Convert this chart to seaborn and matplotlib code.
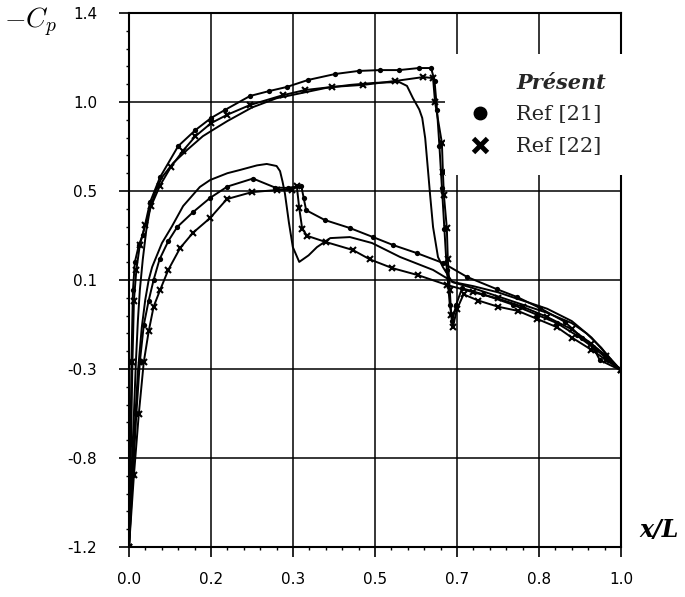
import numpy as np
import pandas as pd
import matplotlib
matplotlib.use('Agg')
import matplotlib.pyplot as plt
import seaborn as sns
from matplotlib.lines import Line2D
from matplotlib.ticker import FormatStrFormatter, AutoMinorLocator


# Donnees (-Cp le long de x/L)
##############################################

# Present - extrados
x_pres_ext = [0.0, 0.005, 0.01, 0.014, 0.018, 0.022, 0.028, 0.035, 0.043, 0.055,
              0.067, 0.09, 0.118, 0.15, 0.17, 0.2, 0.25, 0.3, 0.33, 0.4,
              0.45, 0.5, 0.549, 0.565, 0.577, 0.59, 0.596, 0.602, 0.608, 0.612,
              0.618, 0.628, 0.638, 0.657, 0.7, 0.75, 0.8, 0.85, 0.9, 0.93,
              0.96, 0.98, 1.0]
cp_pres_ext = [-1.2, -0.85, -0.55, -0.3, -0.1, 0.05, 0.2, 0.34, 0.45, 0.54,
               0.6, 0.67, 0.733, 0.8, 0.83, 0.874, 0.94, 0.985, 1.0, 1.035,
               1.05, 1.06, 1.064, 1.045, 0.986, 0.93, 0.889, 0.791, 0.626, 0.514,
               0.358, 0.212, 0.163, 0.09, 0.06, 0.02, -0.02, -0.06, -0.11, -0.16,
               -0.23, -0.29, -0.34]

# Present - intrados
x_pres_int = [0.0, 0.006, 0.012, 0.018, 0.026, 0.033, 0.04, 0.047, 0.067, 0.087,
              0.11, 0.144, 0.165, 0.2, 0.226, 0.26, 0.28, 0.3, 0.307, 0.312,
              0.317, 0.325, 0.333, 0.346, 0.365, 0.382, 0.409, 0.449, 0.494, 0.551,
              0.618, 0.659, 0.7, 0.75, 0.8, 0.85, 0.9, 0.94, 0.97, 1.0]
cp_pres_int = [-1.2, -0.9, -0.6, -0.35, -0.13, 0.003, 0.1, 0.163, 0.28, 0.36,
               0.46, 0.553, 0.587, 0.62, 0.636, 0.658, 0.665, 0.655, 0.63, 0.58,
               0.52, 0.38, 0.26, 0.188, 0.22, 0.26, 0.304, 0.309, 0.28, 0.212,
               0.149, 0.09, 0.07, 0.04, 0.0, -0.04, -0.1, -0.18, -0.26, -0.34]

# Ref [21] - extrados
x_r21_ext = [0.0, 0.003, 0.005, 0.008, 0.012, 0.02, 0.028, 0.043, 0.063, 0.1,
             0.135, 0.167, 0.195, 0.246, 0.285, 0.321, 0.364, 0.419, 0.467, 0.51,
             0.549, 0.589, 0.614, 0.621, 0.626, 0.631, 0.636, 0.641, 0.646, 0.652,
             0.657, 0.665, 0.677, 0.72, 0.78, 0.83, 0.87, 0.91, 0.95, 0.975, 1.0]
cp_r21_ext = [-1.2, -0.7, -0.3, 0.05, 0.188, 0.27, 0.319, 0.48, 0.6, 0.752,
              0.83, 0.889, 0.928, 0.996, 1.02, 1.04, 1.074, 1.103, 1.118, 1.122,
              1.122, 1.132, 1.132, 1.07, 0.93, 0.75, 0.55, 0.35, 0.15, -0.02,
              -0.1, -0.02, 0.06, 0.03, -0.02, -0.07, -0.11, -0.17, -0.24, -0.29, -0.34]

# Ref [21] - intrados
x_r21_int = [0.0, 0.008, 0.015, 0.022, 0.03, 0.04, 0.05, 0.062, 0.08, 0.098,
             0.13, 0.165, 0.2, 0.252, 0.297, 0.323, 0.35, 0.355, 0.36, 0.398,
             0.449, 0.496, 0.537, 0.585, 0.638, 0.687, 0.748, 0.789, 0.835, 0.886,
             0.921, 0.943, 0.957, 1.0]
cp_r21_int = [-1.2, -0.85, -0.55, -0.3, -0.12, 0.0, 0.1, 0.2, 0.29, 0.358,
              0.43, 0.5, 0.555, 0.594, 0.55, 0.548, 0.56, 0.5, 0.44, 0.392,
              0.353, 0.309, 0.27, 0.231, 0.183, 0.115, 0.055, 0.017, -0.036, -0.104,
              -0.182, -0.226, -0.29, -0.34]

# Ref [22] - extrados
x_r22_ext = [0.0, 0.004, 0.007, 0.01, 0.015, 0.022, 0.033, 0.045, 0.063, 0.085,
             0.11, 0.135, 0.167, 0.2, 0.246, 0.313, 0.358, 0.413, 0.476, 0.541,
             0.598, 0.618, 0.622, 0.636, 0.638, 0.64, 0.646, 0.648, 0.652, 0.655,
             0.658, 0.667, 0.68, 0.71, 0.75, 0.79, 0.83, 0.87, 0.9, 0.94, 0.97, 1.0]
cp_r22_ext = [-1.2, -0.7, -0.3, 0.0, 0.15, 0.27, 0.37, 0.46, 0.56, 0.65,
              0.73, 0.8, 0.864, 0.905, 0.952, 1.0, 1.025, 1.04, 1.05, 1.069,
              1.088, 1.083, 0.967, 0.767, 0.626, 0.514, 0.353, 0.2, 0.05, -0.07,
              -0.13, -0.04, 0.03, 0.0, -0.03, -0.05, -0.09, -0.13, -0.18, -0.24, -0.29, -0.34]

# Ref [22] - intrados
x_r22_int = [0.0, 0.01, 0.02, 0.03, 0.04, 0.05, 0.063, 0.08, 0.104, 0.13,
             0.165, 0.199, 0.25, 0.3, 0.331, 0.341, 0.346, 0.352, 0.362, 0.4,
             0.455, 0.49, 0.535, 0.587, 0.646, 0.7, 0.75, 0.8, 0.85, 0.9,
             0.94, 0.97, 1.0]
cp_r22_int = [-1.2, -0.85, -0.55, -0.3, -0.15, -0.03, 0.05, 0.15, 0.256, 0.33,
              0.402, 0.494, 0.528, 0.538, 0.54, 0.558, 0.45, 0.35, 0.315, 0.285,
              0.246, 0.2, 0.158, 0.124, 0.076, 0.04, 0.01, -0.03, -0.08, -0.14,
              -0.21, -0.27, -0.34]

legende = ['Présent', 'Ref [21]', 'Ref [22]']


# Tableau long pour seaborn
def courbe(x, cp, source, surface):
    return pd.DataFrame({'x': x, 'cp': cp, 'source': source, 'surface': surface})

data = pd.concat([courbe(x_pres_ext, cp_pres_ext, 'pres', 'ext'),
                  courbe(x_pres_int, cp_pres_int, 'pres', 'int'),
                  courbe(x_r21_ext, cp_r21_ext, 'r21', 'ext'),
                  courbe(x_r21_int, cp_r21_int, 'r21', 'int'),
                  courbe(x_r22_ext, cp_r22_ext, 'r22', 'ext'),
                  courbe(x_r22_int, cp_r22_int, 'r22', 'int')], ignore_index=True)


# Figure
##############################################
sns.set_theme(style='ticks')
plt.rcParams['font.family'] = ['DejaVu Sans']
plt.rcParams['mathtext.fontset'] = 'cm'

fig = plt.figure(figsize=(6.85, 5.97), dpi=100)
ax = fig.add_axes([129/685, 50/597, 492/685, 534/597])

styles = {'pres': {},
          'r21': dict(marker='o', markersize=3.8, markeredgewidth=0,
                      markerfacecolor='black'),
          'r22': dict(marker='x', markersize=5, markeredgewidth=1.5,
                      markeredgecolor='black')}
for src, kw in styles.items():
    sns.lineplot(data=data[data.source == src], x='x', y='cp', units='surface',
                 estimator=None, sort=False, color='black', lw=1.4,
                 legend=False, ax=ax, **kw)

ax.set_xlim(0, 1)
ax.set_ylim(-1.2, 1.4)
ax.set_xticks(np.linspace(0, 1, 7))
ax.set_yticks(np.linspace(-1.2, 1.4, 7))
ax.xaxis.set_major_formatter(FormatStrFormatter('%.1f'))
ax.yaxis.set_major_formatter(FormatStrFormatter('%.1f'))
ax.xaxis.set_minor_locator(AutoMinorLocator(5))
ax.yaxis.set_minor_locator(AutoMinorLocator(5))
ax.tick_params(which='major', direction='out', length=7, width=1.2, color='black',
               labelsize=11, labelcolor='black')
ax.tick_params(axis='y', which='major', pad=16)
ax.tick_params(axis='x', which='major', pad=11)
ax.tick_params(which='minor', direction='out', length=2.5, width=1, color='black')

ax.set_axisbelow(True)
ax.grid(True, which='major', color='black', lw=1.1)
for sp in ax.spines.values():
    sp.set_color('black')
    sp.set_linewidth(1.5)

ax.set_ylabel(r'$-C_p$', rotation=0, fontsize=20, color='black', ha='center', va='center')
ax.yaxis.set_label_coords(-0.201, 0.983)
ax.set_xlabel('x/L', fontsize=17, fontstyle='italic', fontweight='bold',
              family='DejaVu Serif', color='black', ha='center', va='center')
ax.xaxis.set_label_coords(1.077, 0.032)

poignees = [Line2D([], [], linestyle='none'),
            Line2D([], [], linestyle='none', marker='o', color='black', markersize=9),
            Line2D([], [], linestyle='none', marker='x', color='black', markersize=10,
                   markeredgewidth=3.5)]
leg = ax.legend(poignees, legende, loc='center', bbox_to_anchor=(0.825, 0.81),
                frameon=True, fancybox=False, framealpha=1, edgecolor='none',
                facecolor='white', prop={'family': 'DejaVu Serif', 'size': 15},
                handlelength=1.5, handletextpad=1.0, labelspacing=0.6, borderpad=0.9)
leg.get_texts()[0].set_fontstyle('italic')
leg.get_texts()[0].set_fontweight('bold')

fig.savefig('out.png', dpi=100)
